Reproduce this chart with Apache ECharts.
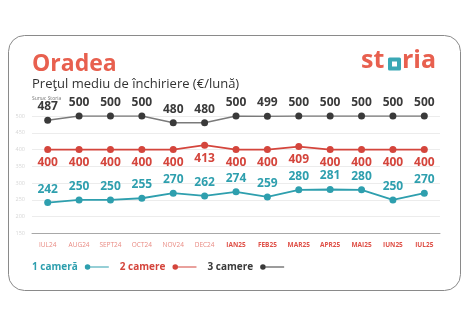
<!DOCTYPE html>
<html>
<head>
<meta charset="utf-8">
<script src="https://cdn.jsdelivr.net/npm/echarts@6/dist/echarts.min.js"></script>
<style>
html,body{margin:0;padding:0;background:#fff;}
#c{width:468px;height:326px;}
</style>
</head>
<body>
<div id="c"></div>
<script>
const months = ["IUL24","AUG24","SEPT24","OCT24","NOV24","DEC24","IAN25","FEB25","MAR25","APR25","MAI25","IUN25","IUL25"];
const oneRoom = [242,250,250,255,270,262,274,259,280,281,280,250,270];
const twoRooms = [400,400,400,400,400,413,400,400,409,400,400,400,400];
const threeRooms = [487,500,500,500,480,480,500,499,500,500,500,500,500];
const yTicks = [150,200,250,300,350,400,450,500];
const seriesNames = ["1 cameră","2 camere","3 camere"];

const TEAL = '#2e9fae', RED = '#d4453c', DARK = '#3a3a3a', CORAL = '#e8604f', LOGO_TEAL = '#3aa8b5';
const FONT = 'Open Sans';
const iconPath = 'path://M0,3A3,3 0 1,0 6,3A3,3 0 1,0 0,3Z M6,2.4L26,2.4L26,3.6L6,3.6Z';

const chart = echarts.init(document.getElementById('c'));
chart.setOption({
  backgroundColor: '#fff',
  animation: false,
  graphic: [
    {type:'rect', left:8, top:35, shape:{width:452, height:255, r:16}, style:{fill:'#fff', stroke:'#8a8a8a', lineWidth:1}, z:-10},
    {type:'text', left:32, top:53, style:{text:'Oradea', font:'bold 23px "Open Sans"', fill:CORAL}},
    {type:'text', left:32, top:78, style:{text:'Preţul mediu de închiriere (€/lună)', font:'13px "Open Sans"', fill:'#333'}},
    {type:'text', left:32, top:96, style:{text:'Sursa: Storia', font:'5px "Open Sans"', fill:'#777'}},
    {type:'text', left:361, top:48, style:{text:'st', font:'bold 25px "Open Sans"', fill:CORAL}},
    {type:'rect', left:388, top:57.5, shape:{width:13, height:13, r:1.5}, style:{fill:LOGO_TEAL}},
    {type:'rect', left:392, top:61.5, shape:{width:5, height:5}, style:{fill:'#fff'}},
    {type:'text', left:402, top:48, style:{text:'ria', font:'bold 25px "Open Sans"', fill:CORAL}}
  ],
  grid: {left:32, right:28, top:116, bottom:92.5},
  xAxis: {
    type:'category',
    data: months,
    boundaryGap:true,
    axisLine:{lineStyle:{color:'#a8a8a8', width:1}},
    axisTick:{show:false},
    axisLabel:{
      margin:8,
      interval:0,
      formatter:(v,i)=> i<6 ? '{l|'+v+'}' : '{b|'+v+'}',
      rich:{
        l:{fontFamily:FONT, fontSize:6.5, color:'#e98a82'},
        b:{fontFamily:FONT, fontSize:6.5, fontWeight:'bold', color:'#df5047'}
      }
    }
  },
  yAxis: {
    type:'value',
    min: yTicks[0],
    max: yTicks[yTicks.length-1],
    interval: yTicks[1]-yTicks[0],
    axisLine:{show:false},
    axisTick:{show:false},
    splitLine:{lineStyle:{color:'#ececec', width:1}},
    axisLabel:{fontFamily:FONT, fontSize:5.5, color:'#d6d6d6', margin:7}
  },
  legend: {
    left:32, top:262,
    padding:0,
    align:'right',
    itemWidth:24, itemHeight:6,
    itemGap:11,
    data:[
      {name:seriesNames[0], icon:iconPath, textStyle:{color:TEAL}},
      {name:seriesNames[1], icon:iconPath, textStyle:{color:RED}},
      {name:seriesNames[2], icon:iconPath, textStyle:{color:DARK}}
    ],
    textStyle:{fontFamily:FONT, fontSize:10, fontWeight:'bold', padding:[0,2,0,0]}
  },
  series: [
    {name:seriesNames[0], type:'line', data:oneRoom, symbol:'circle', symbolSize:7,
     itemStyle:{color:TEAL}, lineStyle:{color:TEAL, width:1.8},
     label:{show:true, position:'top', distance:4, color:TEAL, fontFamily:FONT, fontSize:12, fontWeight:'bold'}},
    {name:seriesNames[1], type:'line', data:twoRooms, symbol:'circle', symbolSize:7,
     itemStyle:{color:RED}, lineStyle:{color:RED, width:1.8},
     label:{show:true, position:'bottom', distance:4, color:RED, fontFamily:FONT, fontSize:12, fontWeight:'bold'}},
    {name:seriesNames[2], type:'line', data:threeRooms, symbol:'circle', symbolSize:7,
     itemStyle:{color:DARK}, lineStyle:{color:'#7a7a7a', width:1.5},
     label:{show:true, position:'top', distance:4, color:DARK, fontFamily:FONT, fontSize:12, fontWeight:'bold'}}
  ]
});
</script>
</body>
</html>
